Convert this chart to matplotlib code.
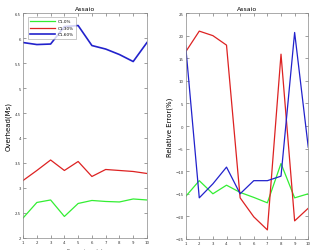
import numpy as np
import matplotlib
matplotlib.use('Agg')
import matplotlib.pyplot as plt

runs = [1, 2, 3, 4, 5, 6, 7, 8, 9, 10]
labels = ['C1-0%', 'C1-30%', 'C1-60%']
colors = ['#33ee33', '#dd2222', '#2222cc']

# overhead (left)
ovh_0 = [2.40, 2.71, 2.76, 2.43, 2.69, 2.75, 2.73, 2.72, 2.78, 2.76]
ovh_30 = [3.15, 3.35, 3.56, 3.35, 3.53, 3.23, 3.37, 3.35, 3.33, 3.29]
ovh_60 = [5.91, 5.87, 5.88, 6.23, 6.25, 5.85, 5.78, 5.67, 5.53, 5.91]

# relative error (right)
err_0 = [-15.6, -12.1, -15.0, -13.1, -14.7, -15.8, -17.0, -8.3, -15.9, -15.0]
err_30 = [16.4, 21.0, 20.0, 17.9, -15.9, -20.1, -23.0, 15.9, -21.0, -18.2]
err_60 = [17.8, -15.9, -12.8, -9.1, -15.0, -12.1, -12.1, -11.1, 20.7, -4.7]

fig = plt.figure(figsize=(3.12, 2.51), dpi=100)
ax1 = fig.add_axes([0.074, 0.048, 0.397, 0.896])
ax2 = fig.add_axes([0.595, 0.044, 0.393, 0.900])

def style(ax):
	ax.tick_params(direction='in', length=2, width=0.4, labelsize=2.8, pad=1.5,
		top=True, right=True, colors='#555555', labelcolor='#333333')
	for s in ax.spines.values():
		s.set_linewidth(0.5)
		s.set_color('#888888')
	ax.set_xlim(1, 10)
	ax.set_xticks(runs)
	ax.set_xlabel('Esecuzione (n)', fontsize=3.5, labelpad=2.5, color='#444444')

for vals, lab, col, lw in zip([ovh_0, ovh_30, ovh_60], labels, colors, [0.9, 0.9, 1.2]):
	ax1.plot(runs, vals, color=col, linewidth=lw, label=lab)
ax1.set_ylim(2, 6.5)
ax1.set_yticks(np.arange(2, 6.51, 0.5))
ax1.set_yticklabels(['2', '2.5', '3', '3.5', '4', '4.5', '5', '5.5', '6', '6.5'])
ax1.set_ylabel('Overhead(Ms)', fontsize=5, labelpad=2)
ax1.set_title('Assaio', fontsize=4.5, pad=2)
style(ax1)
leg = ax1.legend(loc='upper left', fontsize=3, frameon=True, fancybox=False,
	handlelength=6, borderpad=0.5, labelspacing=0.6, bbox_to_anchor=(0.02, 0.99))
leg.get_frame().set_linewidth(0.4)
leg.get_frame().set_edgecolor('#888888')

for vals, col in zip([err_0, err_30, err_60], colors):
	ax2.plot(runs, vals, color=col, linewidth=0.9)
ax2.set_ylim(-25, 25)
ax2.set_yticks(np.arange(-25, 26, 5))
ax2.set_ylabel('Relative Error(%)', fontsize=5, labelpad=2)
ax2.set_title('Assaio', fontsize=4.5, pad=2)
style(ax2)

fig.savefig('out.png', dpi=100)
